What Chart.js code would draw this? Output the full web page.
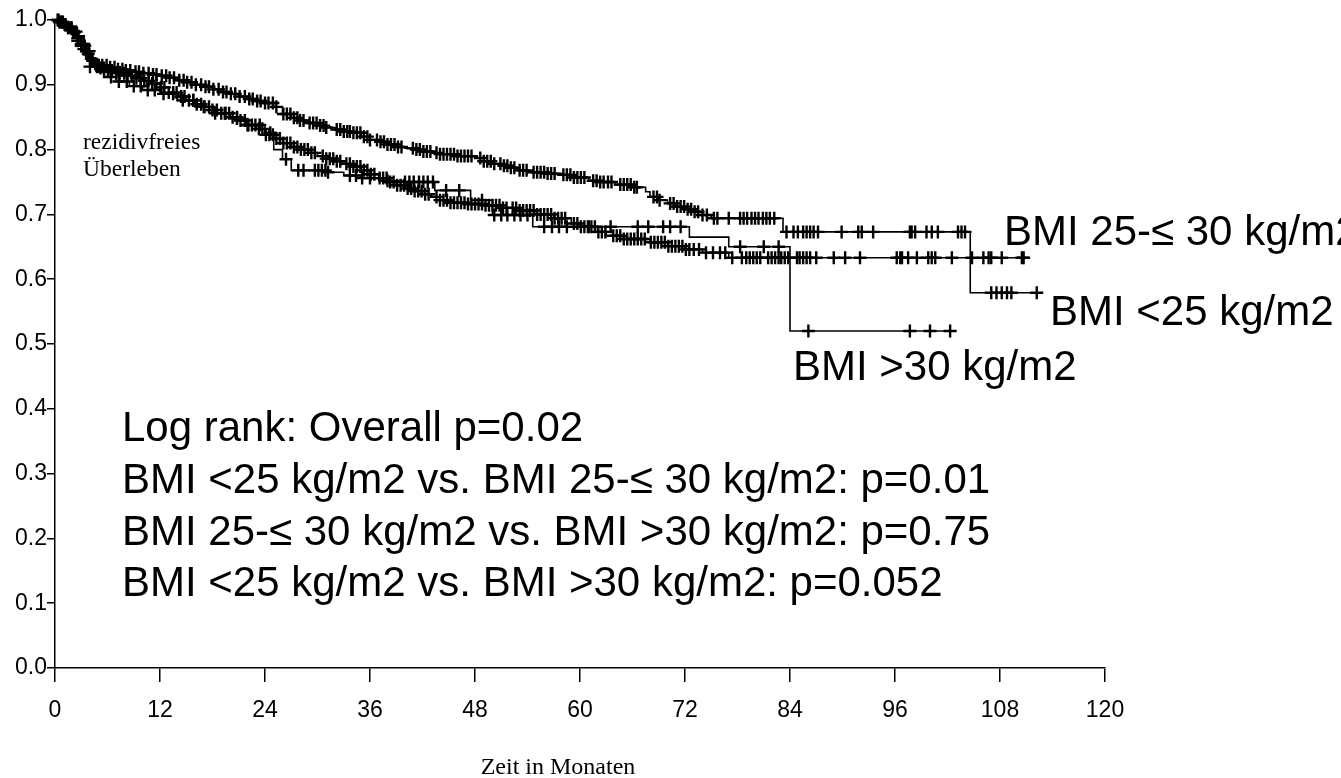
<!DOCTYPE html>
<html>
<head>
<meta charset="utf-8">
<script src="https://cdn.jsdelivr.net/npm/chart.js@4.4.0/dist/chart.umd.min.js"></script>
<style>
  html, body { margin: 0; padding: 0; background: #fff; }
</style>
</head>
<body>
<canvas id="km" width="1341" height="778"></canvas>
<script>
// axis ticks
const monthTicks = [0, 12, 24, 36, 48, 60, 72, 84, 96, 108, 120];
const survivalTicks = [0, 0.1, 0.2, 0.3, 0.4, 0.5, 0.6, 0.7, 0.8, 0.9, 1.0];

// BMI <25 kg/m2 (upper curve) - step times (months) and survival after each step
const under25Times = [0, 0.5, 1, 1.5, 2, 2.5, 3, 3.5, 4, 4.5, 5, 6, 7, 8, 9, 10, 11, 12, 13, 14, 15, 16, 17, 18, 19, 20, 21, 22, 23, 24, 25, 26, 27, 28, 29, 30, 31, 32, 33, 34, 35, 36, 37, 38, 39, 40, 41, 42, 43, 44, 46, 48, 49, 50, 51, 52, 53, 54, 56, 58, 59, 61, 62, 64, 66, 67.5, 68, 69, 70, 71, 72, 73, 74, 75, 83.2, 104.6, 112.3];
const under25Surv = [1.0, 0.997, 0.993, 0.988, 0.982, 0.975, 0.963, 0.952, 0.94, 0.933, 0.93, 0.927, 0.924, 0.922, 0.92, 0.918, 0.916, 0.914, 0.911, 0.907, 0.904, 0.9, 0.897, 0.893, 0.889, 0.886, 0.882, 0.878, 0.875, 0.872, 0.866, 0.855, 0.849, 0.845, 0.841, 0.837, 0.834, 0.831, 0.828, 0.826, 0.82, 0.815, 0.812, 0.808, 0.804, 0.802, 0.8, 0.797, 0.795, 0.793, 0.79, 0.787, 0.782, 0.778, 0.775, 0.772, 0.768, 0.765, 0.763, 0.761, 0.757, 0.752, 0.75, 0.746, 0.742, 0.735, 0.727, 0.722, 0.717, 0.712, 0.708, 0.704, 0.699, 0.694, 0.673, 0.579, 0.579];
const under25Censored = [0.3, 0.6, 0.9, 1.2, 1.5, 1.8, 2.1, 2.4, 2.7, 3.0, 3.3, 3.6, 3.9, 4.2, 4.6, 5.0, 5.4, 5.9, 6.3, 6.8, 7.2, 7.7, 8.1, 8.6, 9.2, 9.6, 10.1, 10.7, 11.2, 11.6, 12.2, 12.7, 13.1, 13.6, 14.2, 14.7, 15.1, 15.6, 16.1, 16.7, 17.2, 17.6, 18.1, 18.7, 19.2, 19.6, 20.1, 20.6, 21.1, 21.7, 22.2, 22.6, 23.1, 23.5, 24.0, 24.4, 24.9, 25.3,
  26.1, 26.5, 26.9, 27.3, 27.7, 28.0, 28.4, 29.1, 29.5, 29.9, 30.3, 30.7, 31.0, 32.2, 32.6, 33.0, 33.4, 33.7, 34.1, 34.5, 34.9, 35.3, 35.7, 36.0,
  36.8, 37.2, 37.6, 38.0, 38.4, 38.8, 39.2, 39.6, 40.9, 41.3, 41.7, 42.1, 42.5, 42.9, 43.6, 44.0, 44.4, 44.8, 45.2, 45.6, 46.0, 46.4, 46.8, 47.2, 47.6,
  48.6, 49.0, 49.4, 49.8, 50.2, 50.9, 51.3, 51.7, 52.1, 52.5, 53.1, 53.5, 53.9, 54.7, 55.1, 55.5, 55.9, 56.3, 56.7, 57.1, 58.1, 58.5, 58.9, 59.3, 59.7, 60.1, 60.5,
  61.5, 61.9, 62.3, 62.7, 63.2, 63.6, 64.6, 65.0, 65.4, 65.8, 66.2, 66.5, 68.4, 68.8, 69.1, 70.3, 70.7, 71.1, 71.5, 71.9, 72.3, 72.7, 73.1, 73.5, 74.0, 74.5,
  75.3, 75.7, 77.0, 78.3, 78.7, 79.1, 79.6, 80.0, 80.4, 80.9, 81.3, 81.7, 82.2,
  83.6, 84.4, 84.9, 85.5, 85.9, 86.3, 86.7, 87.2, 89.9, 91.8, 92.2, 93.5, 97.7, 97.9, 98.3, 99.6, 100.2, 100.9, 103.2, 103.6, 104.0,
  107.0, 107.6, 108.2, 108.8, 109.3, 112.2];

// BMI 25-<=30 kg/m2
const mid25to30Times = [0, 0.5, 1, 1.5, 2, 2.5, 3, 3.5, 4, 4.5, 5, 6, 7, 8, 9, 10, 11, 12, 13, 14, 15, 16, 17, 18, 19, 20, 21, 22, 23, 24, 25, 26, 27, 28, 29, 30, 31, 32, 33, 34, 35, 36, 37, 38, 39, 40, 41, 42, 43, 44, 45, 47, 49, 51, 53, 55, 57, 59, 60, 62, 63, 65, 68, 70, 72, 74, 77, 111.3];
const mid25to30Surv = [1.0, 0.997, 0.993, 0.988, 0.981, 0.972, 0.96, 0.948, 0.937, 0.93, 0.926, 0.922, 0.918, 0.914, 0.91, 0.906, 0.902, 0.896, 0.888, 0.882, 0.876, 0.87, 0.866, 0.861, 0.856, 0.85, 0.845, 0.838, 0.832, 0.823, 0.817, 0.81, 0.804, 0.8, 0.795, 0.79, 0.786, 0.782, 0.778, 0.774, 0.768, 0.762, 0.756, 0.75, 0.745, 0.74, 0.736, 0.731, 0.727, 0.722, 0.718, 0.716, 0.714, 0.71, 0.706, 0.7, 0.694, 0.686, 0.681, 0.673, 0.667, 0.662, 0.657, 0.651, 0.646, 0.641, 0.633, 0.633];
const mid25to30Censored = [0.4, 0.8, 1.1, 1.5, 1.9, 2.2, 2.6, 3.0, 3.4, 3.8, 4.3, 4.7, 5.2, 5.6, 6.1, 6.5, 7.0, 7.4, 7.9, 8.3, 8.8, 9.3, 9.8, 10.2, 10.7, 11.1, 11.6, 12.1, 12.5, 13.0, 13.5, 13.9, 14.4, 14.8, 15.3, 15.8, 16.2, 16.7, 17.1, 17.6, 18.0, 18.5, 19.0, 19.4, 19.9, 20.3, 20.8, 21.2, 21.7, 22.1, 22.5, 22.9, 23.3, 23.7, 24.1, 24.5, 24.9, 25.3, 25.7,
  26.1, 26.5, 26.9, 27.3, 27.7, 28.1, 28.5, 28.9, 29.3, 29.7, 30.6, 31.0, 31.4, 31.8, 32.2, 32.6, 33.3, 33.7, 34.1, 34.5, 34.9, 35.3, 35.7, 36.1, 36.5,
  37.1, 37.5, 37.9, 38.3, 38.7, 39.1, 39.5, 39.9, 40.3, 40.7, 41.1, 41.5, 41.9, 42.3, 42.7, 43.6, 44.0, 44.4, 44.8, 45.2, 45.6, 46.0, 46.4, 46.8, 47.2, 47.6,
  48.0, 48.4, 48.8, 49.2, 49.6, 50.0, 50.4, 50.8, 51.2, 51.6, 52.3, 52.7, 53.1, 53.5, 53.9, 54.3, 54.7, 55.1, 55.5, 55.9, 56.3, 56.7, 57.1, 57.5, 57.9, 58.3,
  59.3, 59.7, 60.1, 60.5, 60.9, 61.3, 61.7, 62.1, 62.5, 62.9, 63.8, 64.2, 64.6, 65.0, 65.4, 65.8, 66.2, 66.6, 67.0, 67.4, 68.1, 68.5, 68.9, 69.3, 69.7, 70.1,
  70.5, 70.9, 71.3, 71.7, 72.1, 72.5, 73.0, 73.6, 74.4, 75.2, 76.0, 76.6, 77.4, 78.5, 79.0, 79.4, 79.8, 80.2, 80.6, 81.5, 81.9, 82.3, 82.7, 83.0, 83.4, 83.8,
  84.8, 85.1, 85.5, 85.9, 86.3, 87.0, 89.0, 90.3, 92.0, 96.2, 96.6, 96.8, 97.5, 98.5, 99.8, 100.2, 100.6, 102.5, 104.8, 106.1, 106.7, 107.0, 108.2, 110.5, 110.7];

// BMI >30 kg/m2
const over30Times = [0, 0.5, 1, 1.5, 2, 2.5, 3, 3.5, 4, 5, 6, 7, 8.5, 10, 12, 14, 16, 18, 20, 22, 24, 25, 26, 27, 31, 33, 35, 37, 40, 43.4, 47.5, 50, 54.6, 72.5, 77, 84, 102.9];
const over30Surv = [1.0, 0.997, 0.992, 0.986, 0.978, 0.968, 0.955, 0.94, 0.928, 0.92, 0.912, 0.905, 0.898, 0.892, 0.886, 0.876, 0.866, 0.856, 0.848, 0.838, 0.826, 0.8, 0.785, 0.768, 0.765, 0.76, 0.756, 0.752, 0.75, 0.737, 0.722, 0.699, 0.681, 0.665, 0.65, 0.52, 0.52];
const over30Censored = [0.5, 1.2, 1.9, 2.6, 3.3, 4.0, 4.8, 5.6, 6.4, 7.3, 8.2, 9.0, 9.8, 10.6, 11.4, 12.4, 13.5, 14.6, 15.8, 17.0, 18.3, 19.5, 20.8, 22.0, 23.4, 24.6,
  26.4, 27.8, 28.4, 29.7, 30.1, 30.5, 30.9, 31.2, 33.7, 34.4, 35.1, 36.0, 38.0, 40.0, 40.5, 41.0, 41.6, 42.1, 42.6, 43.2, 44.7, 46.2, 48.8,
  50.2, 51.0, 51.7, 52.5, 53.2, 54.0, 55.9, 56.8, 57.6, 58.5, 61.0, 63.5, 66.6, 67.8, 69.5, 70.3, 71.5, 78.3, 81.0, 82.7, 86.1, 97.7, 100.0, 102.3];

function steps(times, surv) {
  return times.map((t, i) => ({ x: t, y: surv[i] }));
}
// survival value at a censoring time, read from the step arrays
function survAt(times, surv, t) {
  let v = surv[0];
  for (let i = 0; i < times.length; i++) {
    if (times[i] <= t) v = surv[i];
  }
  return v;
}
function marks(times, surv, censored) {
  return censored.map(t => ({ x: t, y: survAt(times, surv, t) }));
}

const groups = [
  [under25Times, under25Surv, under25Censored],
  [mid25to30Times, mid25to30Surv, mid25to30Censored],
  [over30Times, over30Surv, over30Censored]
];

const datasets = [];
groups.forEach(g => {
  datasets.push({
    type: 'line',
    data: steps(g[0], g[1]),
    stepped: true,
    borderColor: '#000',
    borderWidth: 1.6,
    pointRadius: 0,
    fill: false,
    clip: false
  });
  // censored cases as "+" ticks
  datasets.push({
    type: 'scatter',
    data: marks(g[0], g[1], g[2]),
    pointStyle: 'cross',
    radius: 6.5,
    borderColor: '#000',
    backgroundColor: '#000',
    borderWidth: 2.4,
    clip: false
  });
});

const sans = '"Liberation Sans", Arial, sans-serif';
const serif = '"Liberation Serif", "Times New Roman", serif';

// free text on the figure
const notesPlugin = {
  id: 'notes',
  afterDraw(chart) {
    const c = chart.ctx;
    c.save();
    c.fillStyle = '#000';
    c.textBaseline = 'middle';
    c.textAlign = 'left';

    c.font = '23.5px ' + serif;
    c.fillText('rezidivfreies', 83, 143);
    c.fillText('Überleben', 83, 170);

    c.font = '42px ' + sans;
    c.fillText('BMI 25-\u2264 30 kg/m2', 1004, 233);
    c.fillText('BMI <25 kg/m2', 1050, 313);
    c.fillText('BMI >30 kg/m2', 793, 368);

    c.fillText('Log rank: Overall p=0.02', 122, 429);
    c.fillText('BMI <25 kg/m2 vs. BMI 25-\u2264 30 kg/m2: p=0.01', 122, 481);
    c.fillText('BMI 25-\u2264 30 kg/m2 vs. BMI >30 kg/m2: p=0.75', 122, 533);
    c.fillText('BMI <25 kg/m2 vs. BMI >30 kg/m2: p=0.052', 122, 584);

    c.font = '24px ' + serif;
    c.textAlign = 'center';
    c.fillText('Zeit in Monaten', 558, 768);
    c.restore();
  }
};

new Chart(document.getElementById('km'), {
  data: { datasets: datasets },
  options: {
    responsive: false,
    animation: false,
    layout: { padding: { top: 20, right: 236, left: 0, bottom: 0 } },
    plugins: { legend: { display: false }, tooltip: { enabled: false } },
    scales: {
      x: {
        type: 'linear',
        min: 0,
        max: 120,
        afterBuildTicks: axis => { axis.ticks = monthTicks.map(v => ({ value: v })); },
        afterFit: scale => { scale.height = 110; },
        ticks: { color: '#000', padding: 15, font: { family: sans, size: 23 }, maxRotation: 0 },
        grid: { drawOnChartArea: false, drawTicks: true, tickLength: 14, color: '#000', lineWidth: 1.5 },
        border: { display: true, color: '#000', width: 1.5 }
      },
      y: {
        type: 'linear',
        min: 0,
        max: 1,
        afterBuildTicks: axis => { axis.ticks = survivalTicks.map(v => ({ value: v })); },
        afterFit: scale => { scale.width = 55; },
        ticks: { color: '#000', padding: 0, font: { family: sans, size: 23 }, callback: v => v.toFixed(1) },
        grid: { drawOnChartArea: false, drawTicks: true, tickLength: 8, color: '#000', lineWidth: 1.5 },
        border: { display: true, color: '#000', width: 1.5 }
      }
    }
  },
  plugins: [notesPlugin]
});
</script>
</body>
</html>
